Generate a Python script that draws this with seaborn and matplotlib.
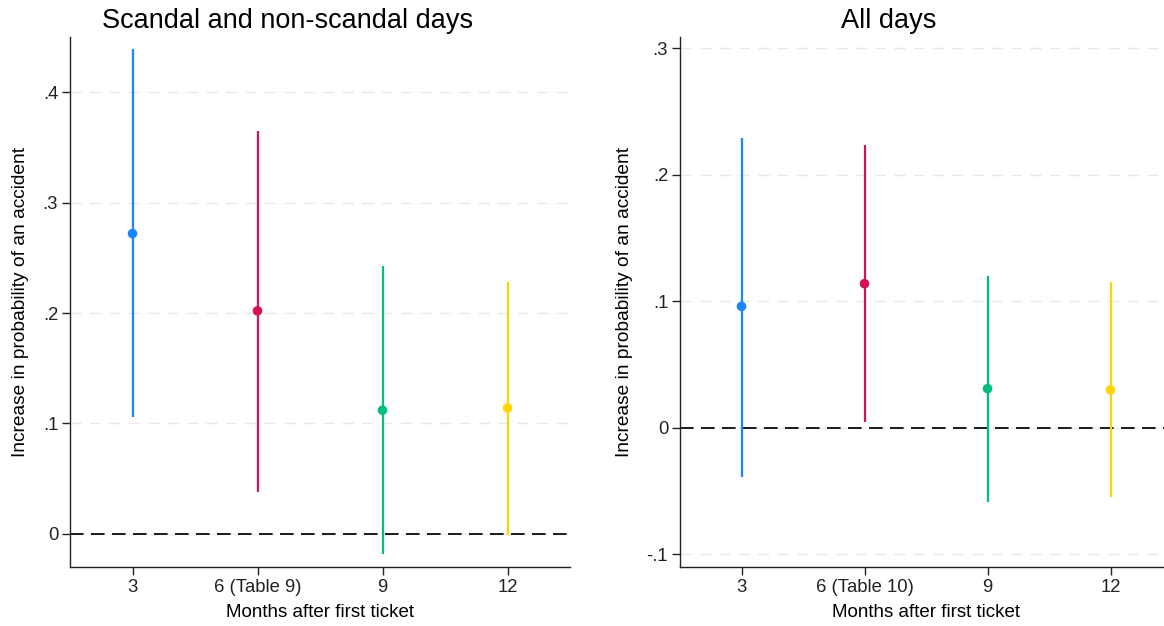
import matplotlib
matplotlib.use("Agg")
import matplotlib.pyplot as plt
import seaborn as sns
import pandas as pd

months = ["3", "6", "9", "12"]
labels_left = ["3", "6 (Table 9)", "9", "12"]
labels_right = ["3", "6 (Table 10)", "9", "12"]

left_est = [0.272, 0.202, 0.112, 0.114]
left_lo = [0.106, 0.038, -0.018, -0.001]
left_hi = [0.439, 0.365, 0.243, 0.228]

right_est = [0.096, 0.114, 0.031, 0.030]
right_lo = [-0.039, 0.005, -0.059, -0.055]
right_hi = [0.229, 0.224, 0.120, 0.115]

colors = ["#1a85ff", "#d41159", "#00bf7f", "#ffd400"]

left_yticks = [0, 0.1, 0.2, 0.3, 0.4]
left_yticklabels = ["0", ".1", ".2", ".3", ".4"]
right_yticks = [-0.1, 0, 0.1, 0.2, 0.3]
right_yticklabels = ["-.1", "0", ".1", ".2", ".3"]

sns.set_theme(style="white")
plt.rcParams["font.family"] = ["Liberation Sans", "DejaVu Sans"]
plt.rcParams["text.color"] = "black"
plt.rcParams["axes.labelcolor"] = "black"
plt.rcParams["xtick.color"] = "#222222"
plt.rcParams["ytick.color"] = "#222222"

W, H = 1164, 626
fig = plt.figure(figsize=(W / 100, H / 100), dpi=100)
ax1 = fig.add_axes([70/W, 1-567/H, 500/W, 530/H])
ax2 = fig.add_axes([680/W, 1-567/H, 492/W, 530/H])


def panel(ax, est, lo, hi, xlabels, yticks, yticklabels, ylim, title, title_x):
    df = pd.DataFrame({"month": months, "est": est, "lo": lo, "hi": hi})
    for yt in yticks:
        ax.axhline(yt, color="#e8e8e8", lw=1.0, ls=(0, (8, 6)), zorder=0)
    ax.vlines(range(len(months)), df["lo"], df["hi"], colors=colors, lw=1.6, zorder=2)
    sns.scatterplot(data=df, x="month", y="est", hue="month", palette=colors,
                    s=48, edgecolor="none", legend=False, ax=ax, zorder=3)
    ax.axhline(0, color="#1a1a1a", lw=1.4, ls=(0, (7, 3.8)), zorder=1)
    ax.set_xlim(-0.5, 3.5)
    ax.set_ylim(*ylim)
    ax.set_xticks(range(len(months)))
    ax.set_xticklabels(xlabels, fontsize=13.3)
    ax.set_yticks(yticks)
    ax.set_yticklabels(yticklabels, fontsize=13.3)
    ax.tick_params(axis="both", direction="out", length=5.5, width=1.0,
                   left=True, bottom=True, pad=3)
    for s in ["top", "right"]:
        ax.spines[s].set_visible(False)
    for s in ["left", "bottom"]:
        ax.spines[s].set_color("#222222")
        ax.spines[s].set_linewidth(1.0)
    ax.set_xlabel("Months after first ticket", fontsize=13.5, labelpad=6)
    ax.set_ylabel("Increase in probability of an accident", fontsize=13.8, labelpad=10)
    fig.text(title_x / W, 1 - 21 / H, title, fontsize=19.5, ha="center", va="center")
    ax.grid(False)


panel(ax1, left_est, left_lo, left_hi, labels_left, left_yticks, left_yticklabels,
      (-0.03, 0.45), "Scandal and non-scandal days", 288)
panel(ax2, right_est, right_lo, right_hi, labels_right, right_yticks, right_yticklabels,
      (-0.11, 0.309), "All days", 889)

fig.savefig("out.png", dpi=100)
